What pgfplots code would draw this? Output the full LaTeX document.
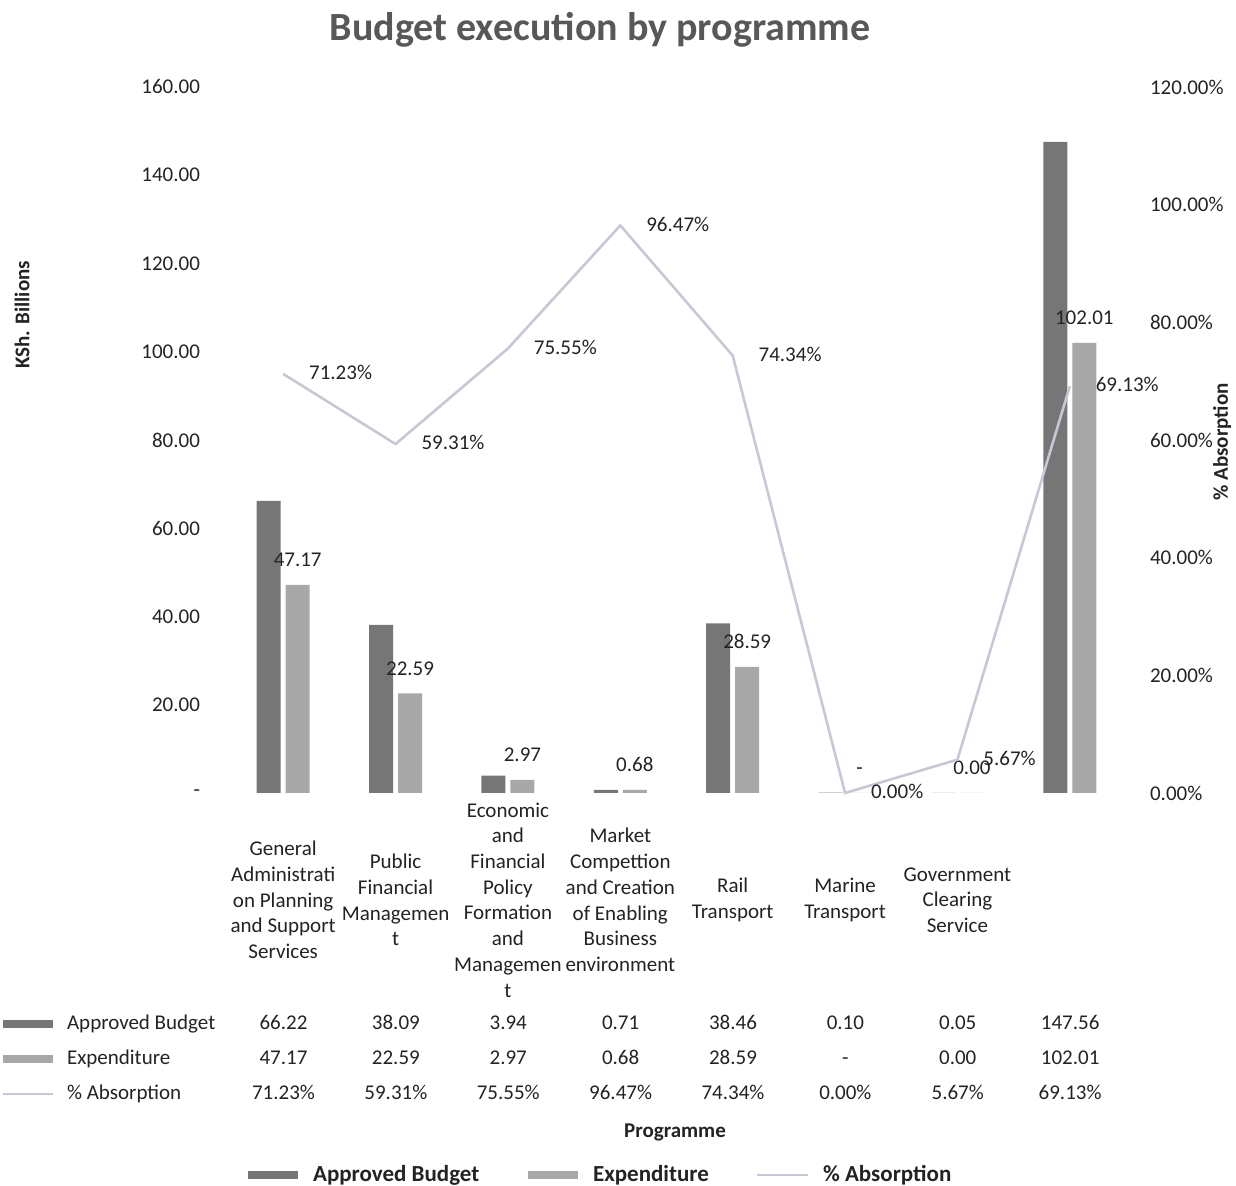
\documentclass[border=0pt]{standalone}
\usepackage{fontspec}
\setmainfont{Carlito}
\usepackage{pgfplots}
\pgfplotsset{compat=1.18}
\definecolor{budgetgray}{RGB}{118,118,118}
\definecolor{expgray}{RGB}{168,168,168}
\definecolor{abslight}{RGB}{198,200,212}
\definecolor{titlegray}{RGB}{88,88,88}
\definecolor{txt}{RGB}{35,35,35}

\newcommand{\lblfont}{\fontsize{10.5}{12.85}\selectfont}

\begin{document}
\begin{tikzpicture}[x=0.5pt,y=0.5pt,
  cell/.style={font=\lblfont, text=txt, text height=1.55ex, text depth=0.35ex}]
\useasboundingbox (0,0) rectangle (1236,1186);

\pgfplotsset{
  base/.style={
    at={(113.5pt,196.5pt)}, anchor=south west,
    scale only axis, width=449.5pt, height=353pt,
    xmin=-0.5, xmax=7.5, ymin=0,
    axis line style={draw=none},
    major tick length=0pt,
    tick label style={font=\lblfont, text=txt},
    clip=false,
  }
}

% bars, left axis
\begin{axis}[base, ymax=160,
  ybar, bar width=12pt,
  xtick={0,...,7},
  xticklabels={
    {General\\Administrati\\on Planning\\and Support\\Services},
    {Public\\Financial\\Managemen\\t},
    {Economic\\and\\Financial\\Policy\\Formation\\and\\Managemen\\t},
    {Market\\Compettion\\and Creation\\of Enabling\\Business\\environment},
    {Rail\\Transport},
    {Marine\\Transport},
    {Government\\Clearing\\Service},
    {}},
  xticklabel style={align=center, anchor=center, yshift=-53.5pt},
  ytick={0,20,...,160},
  yticklabels={-\hspace{10pt},20.00,40.00,60.00,80.00,100.00,120.00,140.00,160.00},
  yticklabel style={anchor=east, xshift=-10pt},
]
\addplot[fill=budgetgray, draw=none, bar shift=-7.25pt] coordinates {
  (0,66.22) (1,38.09) (2,3.94) (3,0.71) (4,38.46) (5,0.10) (6,0.05) (7,147.56)};
\addplot[fill=expgray, draw=none, bar shift=7.25pt,
  nodes near coords, point meta=explicit symbolic,
  nodes near coords style={anchor=center, yshift=12pt, cell}]
  coordinates {
  (0,47.17) [47.17] (1,22.59) [22.59] (2,2.97) [2.97] (3,0.68) [0.68]
  (4,28.59) [28.59] (5,0) [-] (6,0.00) [0.00] (7,102.01) [102.01]};
\end{axis}

% line, right axis
\begin{axis}[base, ymax=120,
  axis y line*=right,
  xtick=\empty,
  ytick={0,20,...,120},
  yticklabels={0.00\%,20.00\%,40.00\%,60.00\%,80.00\%,100.00\%,120.00\%},
  yticklabel style={anchor=west, xshift=8.5pt},
]
\addplot[abslight, line width=1.3pt, mark=none,
  nodes near coords, point meta=explicit symbolic,
  nodes near coords style={anchor=west, xshift=9pt, cell}]
  coordinates {
  (0,71.23) [71.23\%] (1,59.31) [59.31\%] (2,75.55) [75.55\%] (3,96.47) [96.47\%]
  (4,74.34) [74.34\%] (5,0.00) [0.00\%] (6,5.67) [5.67\%] (7,69.13) [69.13\%]};
\end{axis}

% title and axis titles
\node[font=\bfseries\fontsize{20}{24}\selectfont, text=titlegray] at (600,1156) {Budget execution by programme};
\node[font=\bfseries\lblfont, text=txt, rotate=90] at (22,871) {KSh. Billions};
\node[font=\bfseries\lblfont, text=txt, rotate=90] at (1222,744) {\% Absorption};
\node[font=\bfseries\lblfont, text=txt] at (675,54) {Programme};

% data table
\fill[budgetgray] (3,158) rectangle (53,166);
\fill[expgray] (3,123) rectangle (53,131);
\draw[abslight, line width=1pt] (3,92) -- (53,92);
\node[anchor=west, cell] at (60,162) {Approved Budget};
\node[anchor=west, cell] at (60,127) {Expenditure};
\node[anchor=west, cell] at (60,92) {\% Absorption};
\foreach \v [count=\i from 0] in {66.22,38.09,3.94,0.71,38.46,0.10,0.05,147.56}
  \node[cell] at ({283.5+112.375*\i},162) {\v};
\foreach \v [count=\i from 0] in {47.17,22.59,2.97,0.68,28.59,-,0.00,102.01}
  \node[cell] at ({283.5+112.375*\i},127) {\v};
\foreach \v [count=\i from 0] in {71.23\%,59.31\%,75.55\%,96.47\%,74.34\%,0.00\%,5.67\%,69.13\%}
  \node[cell] at ({283.5+112.375*\i},92) {\v};

% legend
\fill[budgetgray] (248,7) rectangle (298,15);
\node[anchor=west, font=\bfseries\fontsize{11.5}{14}\selectfont, text=txt] at (306,11) {Approved Budget};
\fill[expgray] (528,7) rectangle (578,15);
\node[anchor=west, font=\bfseries\fontsize{11.5}{14}\selectfont, text=txt] at (586,11) {Expenditure};
\draw[abslight, line width=1pt] (757,11) -- (808,11);
\node[anchor=west, font=\bfseries\fontsize{11.5}{14}\selectfont, text=txt] at (816,11) {\% Absorption};
\end{tikzpicture}
\end{document}
